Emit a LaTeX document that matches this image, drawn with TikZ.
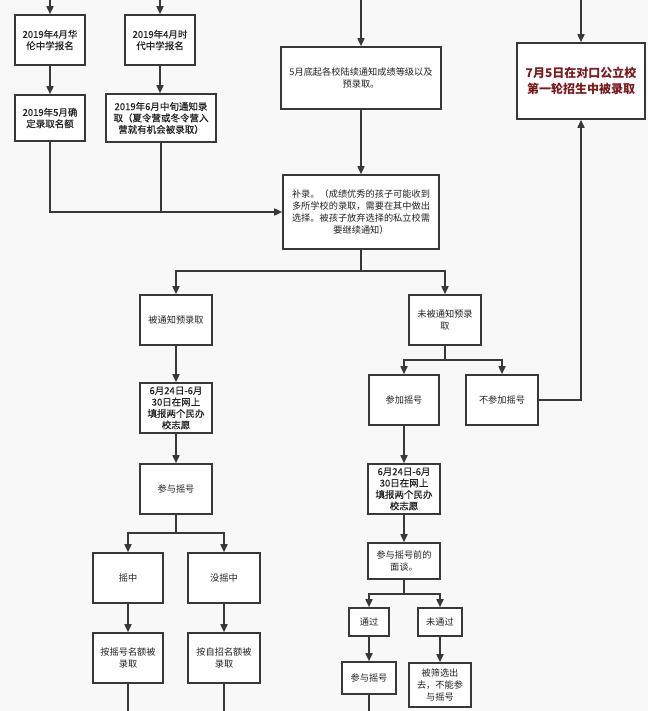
\documentclass[tikz,border=0pt]{standalone}
\usepackage{fontspec}
\setmainfont{Noto Sans CJK SC}
\newfontfamily\medfont{Noto Sans CJK SC}[FakeBold=0.4]
\usetikzlibrary{arrows.meta}
\definecolor{bg}{HTML}{F8F8F8}
\definecolor{ln}{HTML}{383838}
\definecolor{tx}{HTML}{222222}
\definecolor{dred}{HTML}{7A1A1E}
\begin{document}
\begin{tikzpicture}[x=1pt,y=-1pt,
  box/.style={draw=ln,line width=1.6pt,fill=white,inner sep=1pt,align=center,text=tx,font=\fontsize{9.2}{12}\selectfont},
  bigbox/.style={box,font=\medfont\fontsize{9.5}{11.5}\selectfont},
  conn/.style={draw=ln,line width=1.6pt},
  arr/.style={conn,-{Triangle[length=8pt,width=7pt]}}]
\path[fill=bg] (0,0) rectangle (648,711);
\useasboundingbox (0,0) rectangle (648,711);
% nodes
\node[bigbox,minimum width=70,minimum height=50] (A) at (50,40) {2019年4月华\\伦中学报名};
\node[bigbox,minimum width=70,minimum height=50] (B) at (160,40) {2019年4月时\\代中学报名};
\node[bigbox,minimum width=70,minimum height=46] (C) at (50,118) {2019年5月确\\定录取名额};
\node[bigbox,minimum width=110,minimum height=48] (D) at (161,118) {2019年6月中旬通知录\\取（夏令营或冬令营入\\营就有机会被录取）};
\node[box,minimum width=160,minimum height=62] (E) at (361,78) {5月底起各校陆续通知成绩等级以及\\预录取。};
\node[box,minimum width=156,minimum height=74] (F) at (361,212) {补录。（成绩优秀的孩子可能收到\\多所学校的录取，需要在其中做出\\选择。被孩子放弃选择的私立校需\\要继续通知）};
\node[box,minimum width=128,minimum height=76,text=dred,font=\fontsize{12}{16}\selectfont\bfseries] (K) at (581,81) {7月5日在对口公立校\\第一轮招生中被录取};
\node[box,minimum width=72,minimum height=50] (G) at (176,320) {被通知预录取};
\node[box,minimum width=72,minimum height=50] (H) at (445,320) {未被通知预录\\取};
\node[box,minimum width=70,minimum height=50] (I) at (404,400) {参加摇号};
\node[box,minimum width=72,minimum height=50] (J) at (502,400) {不参加摇号};
\node[bigbox,minimum width=72,minimum height=50] (L) at (176,408) {6月24日-6月\\30日在网上\\填报两个民办\\校志愿};
\node[box,minimum width=72,minimum height=50] (M) at (176,489) {参与摇号};
\node[box,minimum width=70,minimum height=50] (N) at (128,578) {摇中};
\node[box,minimum width=72,minimum height=50] (O) at (224,578) {没摇中};
\node[box,minimum width=70,minimum height=50] (P) at (128,658) {按摇号名额被\\录取};
\node[box,minimum width=72,minimum height=50] (Q) at (224,658) {按自招名额被\\录取};
\node[bigbox,minimum width=72,minimum height=50] (R) at (404,489) {6月24日-6月\\30日在网上\\填报两个民办\\校志愿};
\node[box,minimum width=72,minimum height=36] (S) at (404,561) {参与摇号前的\\面谈。};
\node[box,minimum width=40,minimum height=28] (T) at (369,622) {通过};
\node[box,minimum width=44,minimum height=28] (U) at (440,622) {未通过};
\node[box,minimum width=54,minimum height=32] (V) at (369,678) {参与摇号};
\node[box,minimum width=62,minimum height=44] (W) at (440,685) {被筛选出\\去，不能参\\与摇号};
% free ends
\coordinate (tA) at (50,0);
\coordinate (tB) at (160,0);
\coordinate (tE) at (361,0);
\coordinate (tK) at (581,0);
\coordinate (j1) at (50,212);
\coordinate (j1b) at (161,212);
\coordinate (j2) at (361,271);
\coordinate (j3) at (445,360);
\coordinate (j4) at (176,533);
\coordinate (j5) at (404,594);
\coordinate (bP) at (128,711);
\coordinate (bQ) at (224,711);
\coordinate (bV) at (369,711);
% connectors
\draw[arr] (tA) -- (A);
\draw[arr] (tB) -- (B);
\draw[arr] (tE) -- (E);
\draw[arr] (tK) -- (K);
\draw[arr] (A) -- (C);
\draw[arr] (B) -- (B |- D.north);
\draw[arr] (C.south) -- (j1) -- (F.west);
\draw[conn] (D.south) -- (j1b);
\draw[arr] (E) -- (F);
\draw[conn] (F.south) -- (j2);
\draw[arr] (j2) -| (G.north);
\draw[arr] (j2) -| (H.north);
\draw[conn] (H.south) -- (j3);
\draw[arr] (j3) -| (I.north);
\draw[arr] (j3) -| (J.north);
\draw[arr] (J.east) -| (K.south);
\draw[arr] (G) -- (L);
\draw[arr] (L) -- (M);
\draw[conn] (M.south) -- (j4);
\draw[arr] (j4) -| (N.north);
\draw[arr] (j4) -| (O.north);
\draw[arr] (N) -- (P);
\draw[arr] (O) -- (Q);
\draw[conn] (P.south) -- (bP);
\draw[conn] (Q.south) -- (bQ);
\draw[arr] (I) -- (R);
\draw[arr] (R) -- (S);
\draw[conn] (S.south) -- (j5);
\draw[arr] (j5) -| (T.north);
\draw[arr] (j5) -| (U.north);
\draw[arr] (T) -- (V);
\draw[arr] (U) -- (W);
\draw[conn] (V.south) -- (bV);
\end{tikzpicture}
\end{document}
